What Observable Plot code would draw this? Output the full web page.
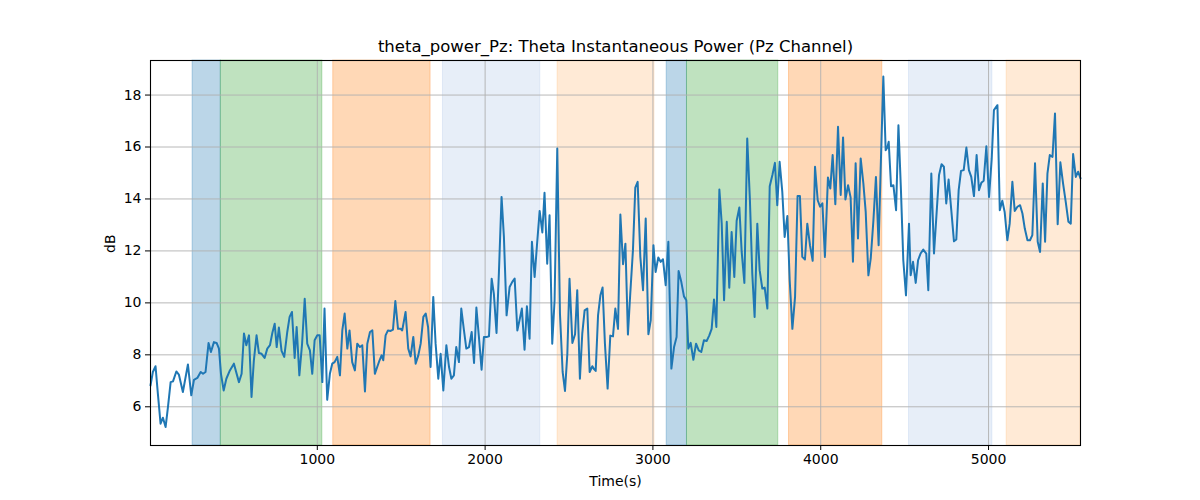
<!DOCTYPE html>
<html>
<head>
<meta charset="utf-8">
<script src="https://cdn.jsdelivr.net/npm/d3@7"></script>
<script src="https://cdn.jsdelivr.net/npm/@observablehq/plot@0.6"></script>
<style>
  html, body { margin: 0; padding: 0; background: #fff; }
  #chart { width: 1200px; height: 500px; }
</style>
</head>
<body>
<div id="chart"></div>
<script>
const titleText = "theta_power_Pz: Theta Instantaneous Power (Pz Channel)";
const xLabel = "Time(s)";
const yLabel = "dB";
const xTicks = [1000, 2000, 3000, 4000, 5000];
const yTicks = [6, 8, 10, 12, 14, 16, 18];

const times = [
  6, 20, 36, 50, 66, 80, 96, 110, 126, 140, 160, 175, 199, 229, 249, 265, 285, 305, 319, 334,
  352, 366, 384, 400, 414, 426, 442, 458, 479,
  503, 533, 549, 563, 577, 593, 608, 622, 638, 652, 668, 686, 702, 718, 732, 746, 758, 771, 787, 803,
  821, 835, 849, 865, 877, 893, 909, 925, 940, 956, 970, 984,
  1000, 1014, 1030, 1043, 1059, 1075, 1089, 1103, 1119, 1135, 1149, 1163, 1179, 1192, 1208, 1224, 1238, 1254, 1268, 1284,
  1298, 1314, 1328, 1343, 1357, 1371, 1383, 1393, 1407, 1421, 1437, 1451, 1465, 1481, 1496,
  1506, 1526, 1542, 1556, 1572, 1586, 1602, 1616, 1632, 1646, 1660, 1675, 1691, 1705, 1721, 1735, 1751, 1769, 1785, 1799,
  1814, 1828, 1844, 1858, 1874, 1888, 1904, 1920, 1934, 1948, 1963, 1979, 1993,
  2009, 2023, 2039, 2052, 2068, 2082, 2098, 2112, 2128, 2146, 2162, 2176, 2192, 2205, 2219, 2235, 2249, 2265, 2279, 2295,
  2309, 2325, 2341, 2354, 2370, 2384, 2400, 2414, 2430, 2446, 2462, 2476, 2490, 2503,
  2520, 2536, 2549, 2565, 2579, 2593, 2609, 2623, 2639, 2649, 2659, 2673, 2687, 2700, 2714, 2730, 2746, 2762, 2776, 2792,
  2806, 2822, 2836, 2851, 2865, 2881, 2895, 2909, 2925, 2941, 2957, 2973, 2987, 3003, 3016,
  3032, 3046, 3060, 3076, 3092, 3110, 3126, 3141, 3153, 3169, 3185, 3199, 3211, 3225, 3241, 3257, 3273, 3288, 3304, 3320,
  3336, 3350, 3364, 3378, 3396, 3410, 3424, 3440, 3455, 3469, 3485, 3499, 3515,
  3529, 3545, 3562, 3578, 3592, 3606, 3622, 3636, 3652, 3666, 3682, 3696, 3712, 3727, 3741, 3755, 3771, 3785, 3801, 3815,
  3831, 3847, 3862, 3876, 3890, 3906, 3920, 3936, 3952, 3966, 3982, 3996, 4010, 4025,
  4043, 4057, 4071, 4087, 4103, 4119, 4133, 4147, 4163, 4178, 4192, 4208, 4222, 4238, 4254, 4268, 4284, 4298, 4314, 4329,
  4345, 4357, 4373, 4387, 4397, 4405, 4419, 4433, 4449, 4463, 4478, 4492, 4508, 4526,
  4536, 4550, 4566, 4580, 4595, 4611, 4629, 4641, 4659, 4675, 4689, 4705, 4720, 4734, 4748, 4762, 4778, 4794, 4808, 4822,
  4836, 4852, 4868, 4883, 4897, 4913, 4929, 4943, 4957, 4971, 4987, 5003, 5019, 5032, 5053,
  5067, 5082, 5096, 5112, 5126, 5142, 5156, 5172, 5188, 5202, 5216, 5232, 5247, 5261, 5277, 5293, 5307, 5323, 5337, 5351,
  5365, 5381, 5396, 5412, 5428, 5444, 5460, 5476, 5490, 5504, 5520, 5534, 5548
];

const values = [
  6.82, 7.34, 7.56, 6.5, 5.35, 5.58, 5.22, 5.99, 6.95, 6.98, 7.36, 7.24, 6.57, 7.63, 6.44, 7.04, 7.11, 7.34, 7.27, 7.34,
  8.46, 8.11, 8.49, 8.46, 8.24, 7.27, 6.63, 7.08, 7.40,
  7.66, 6.95, 7.27, 8.82, 8.37, 8.75, 6.38, 7.79, 8.75, 8.07, 8.04, 7.88, 8.24, 8.37, 8.84, 9.20, 8.30, 9.05, 8.15, 7.92,
  8.88, 9.46, 9.65, 7.88, 9.07, 7.21, 8.40, 10.16, 8.43, 8.17, 7.27, 8.56,
  8.75, 8.75, 6.95, 9.78, 6.27, 7.27, 7.66, 7.72, 7.92, 7.21, 8.94, 9.59, 8.24, 8.94, 7.72, 7.40, 8.43, 8.30, 8.37, 6.59,
  8.43, 8.88, 8.94, 7.27, 7.53, 7.79, 7.98, 7.79, 8.75, 8.94, 8.92, 8.97, 10.07, 9.0, 9.0,
  8.94, 9.65, 8.24, 7.94, 8.69, 7.66, 7.98, 8.43, 9.46, 9.59, 9.07, 7.53, 10.23, 8.43, 7.08, 8.04, 6.63, 8.37, 7.53, 7.08,
  7.21, 8.30, 7.72, 9.78, 8.94, 8.24, 8.30, 8.88, 7.69, 9.82, 8.69, 7.43, 8.69,
  8.69, 8.71, 10.93, 10.36, 8.84, 11.13, 14.08, 12.54, 9.52, 10.61, 10.81, 10.94, 8.94, 9.33, 9.78, 8.20, 9.87, 8.62, 12.35, 11.0,
  12.22, 13.54, 12.71, 14.24, 11.51, 13.37, 8.43, 10.10, 15.94, 9.59, 7.34, 6.61, 8.04, 10.93,
  8.46, 8.79, 10.49, 7.08, 8.82, 9.71, 9.78, 7.34, 7.56, 7.45, 7.38, 9.52, 10.29, 10.59, 8.43, 6.70, 8.74, 8.71, 9.78, 9.0,
  13.40, 11.49, 12.28, 8.78, 10.36, 12.03, 14.44, 14.66, 11.77, 10.49, 13.25, 8.79, 9.33, 12.22, 11.19,
  11.75, 11.58, 11.68, 10.68, 12.35, 7.47, 8.30, 8.69, 11.23, 10.81, 10.25, 10.10, 8.24, 8.46, 7.81, 8.43, 8.17, 8.11, 8.56, 8.53,
  8.75, 9.0, 10.13, 9.07, 14.36, 13.05, 10.10, 13.12, 10.58, 12.73, 11.0, 13.16, 13.67,
  11.96, 10.77, 16.33, 13.95, 11.13, 9.46, 13.05, 11.26, 10.55, 10.59, 9.78, 14.49, 14.92, 15.39, 13.76, 15.43, 14.27, 12.54, 13.34, 10.87,
  9.0, 10.23, 14.11, 14.11, 11.77, 11.67, 13.05, 12.22, 11.62, 15.24, 13.95, 13.70, 13.83, 11.77,
  14.83, 14.40, 15.69, 13.80, 16.78, 14.15, 16.37, 13.98, 14.53, 14.06, 11.58, 15.37, 12.48, 15.56, 14.60, 13.50, 11.06, 11.71, 13.18, 14.85,
  12.22, 15.11, 18.71, 15.88, 15.98, 16.20, 14.49, 14.53, 13.57, 16.84, 14.34, 11.64, 10.29, 13.05,
  11.06, 11.58, 10.77, 11.64, 11.90, 12.05, 11.90, 10.49, 14.98, 11.90, 13.31, 14.92, 15.34, 15.24, 13.83, 14.75, 13.57, 12.37, 12.44, 14.34,
  15.08, 15.11, 15.98, 15.11, 14.85, 14.11, 15.69, 14.34, 14.62, 14.70, 16.03, 14.08, 15.56, 17.42, 17.61,
  13.57, 13.93, 13.50, 12.41, 13.05, 14.66, 13.54, 13.70, 13.76, 13.44, 12.86, 12.41, 12.41, 12.61, 15.37, 12.35, 11.96, 14.60, 12.35, 14.98,
  15.69, 15.62, 17.29, 13.03, 15.41, 14.60, 13.89, 13.12, 13.05, 15.73, 14.85, 15.05, 14.79
];

// shaded epochs
const spanStart = [257, 425, 1095, 1749, 2432, 3082, 3203, 3811, 4526, 5108];
const spanEnd   = [425, 1030, 1675, 2329, 3009, 3203, 3747, 4367, 5023, 5548];
const spanKind  = ["blue", "green", "orange", "lightblue", "lightorange", "blue", "green", "orange", "lightblue", "lightorange"];

const kindColor = {
  blue: "#1f77b4", green: "#2ca02c", orange: "#ff7f0e",
  lightblue: "#aec7e8", lightorange: "#ffbb78"
};

const series = times.map((t, i) => ({t, v: values[i]}));
const spans = spanStart.map((s, i) => ({s, e: spanEnd[i], c: kindColor[spanKind[i]]}));

const font = "'DejaVu Sans', 'Liberation Sans', sans-serif";

const chart = Plot.plot({
  width: 1200,
  height: 500,
  marginLeft: 150,
  marginRight: 120,
  marginTop: 60,
  marginBottom: 55,
  style: {fontFamily: font, fontSize: "14px", background: "#ffffff", color: "#000"},
  x: {domain: [6, 5548], label: null},
  y: {domain: [4.51, 19.33], label: null},
  marks: [
    Plot.rect(spans, {x1: "s", x2: "e", fill: d => d.c, fillOpacity: 0.3, stroke: d => d.c, strokeOpacity: 0.3, strokeWidth: 1}),
    Plot.gridX(xTicks, {stroke: "#b0b0b0", strokeOpacity: 1, strokeWidth: 0.9}),
    Plot.gridY(yTicks, {stroke: "#b0b0b0", strokeOpacity: 1, strokeWidth: 0.9}),
    Plot.line(series, {x: "t", y: "v", stroke: "#1f77b4", strokeWidth: 2}),
    Plot.frame({stroke: "#000", strokeWidth: 1.1}),
    Plot.axisX(xTicks, {tickSize: 5, tickPadding: 4, fontSize: 14, label: null, tickFormat: d => String(d)}),
    Plot.axisY(yTicks, {tickSize: 5, tickPadding: 4, fontSize: 14, label: null}),
    Plot.text([titleText], {text: d => d, frameAnchor: "top", dy: -14, lineAnchor: "middle", fontSize: 16.5, fill: "#000"}),
    Plot.text([xLabel], {text: d => d, frameAnchor: "bottom", dy: 36, lineAnchor: "middle", fontSize: 14, fill: "#000"}),
    Plot.text([yLabel], {text: d => d, frameAnchor: "left", dx: -40, rotate: -90, lineAnchor: "middle", fontSize: 14, fill: "#000"})
  ]
});

document.getElementById("chart").appendChild(chart);
</script>
</body>
</html>
